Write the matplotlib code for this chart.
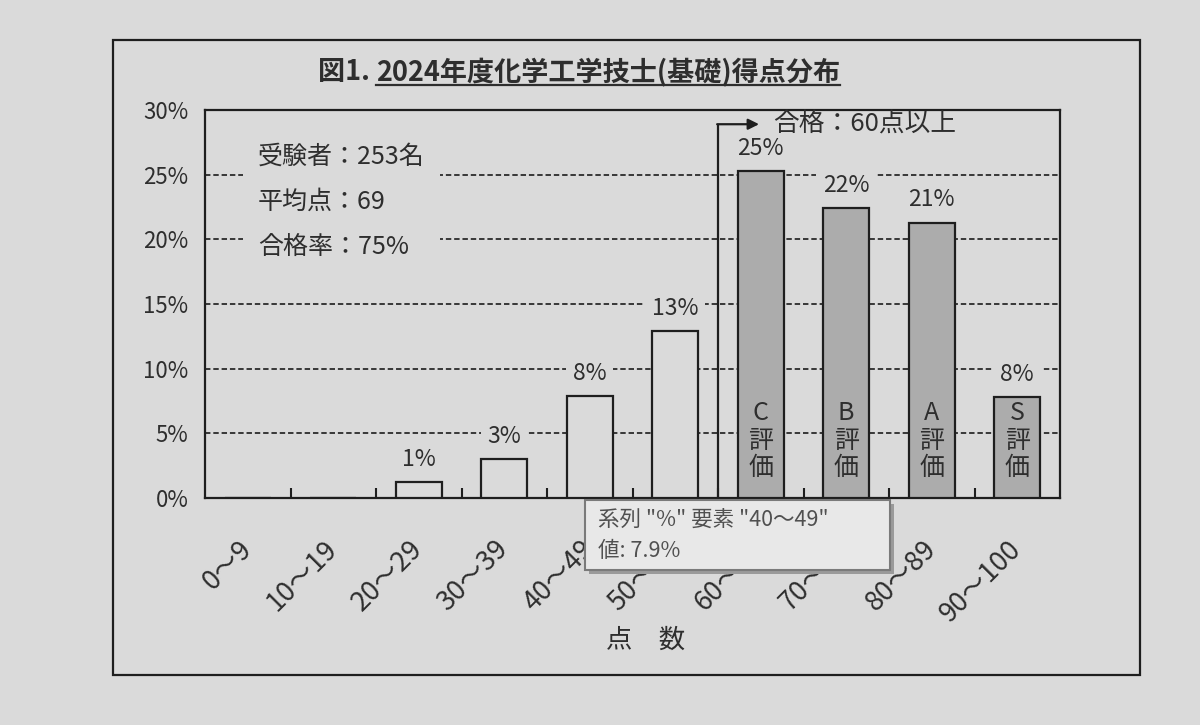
import matplotlib
matplotlib.use('Agg')
import matplotlib.pyplot as plt
from matplotlib.patches import Rectangle
from matplotlib.lines import Line2D
import numpy as np

plt.rcParams['font.family'] = ['Noto Sans CJK JP', 'DejaVu Sans']

# ---- data ----
categories = ['0～9', '10～19', '20～29', '30～39', '40～49',
              '50～59', '60～69', '70～79', '80～89', '90～100']
percent = [0.0, 0.0, 1.2, 3.0, 7.9, 12.9, 25.3, 22.4, 21.3, 7.8]
grades = ['', '', '', '', '', '', 'C', 'B', 'A', 'S']
yticks = [0, 5, 10, 15, 20, 25, 30]
title_prefix = '図1. '
title_main = '2024年度化学工学技士(基礎)得点分布'
stats_lines = ['受験者：253名', '平均点：69', '合格率：75%']
pass_note = '合格：60点以上'
pass_from = '60～69'
xlabel_text = '点　数'
tooltip_lines = ['系列 "%" 要素 "40～49"', '値: 7.9%']

# ---- style ----
BG = '#dadada'
BAR_GRAY = '#acacac'
INK = '#1e1e1e'
TXT = '#2e2e2e'

fig = plt.figure(figsize=(12, 7.25), dpi=100, facecolor=BG)
W, H = 1200, 725
ax = fig.add_axes([205 / W, 1 - 498 / H, (1060 - 205) / W, (498 - 110) / H])
ax.set_facecolor(BG)

x = np.arange(len(categories))
pass_idx = categories.index(pass_from)
colors = [BAR_GRAY if i >= pass_idx else BG for i in x]
ax.bar(x, percent, width=0.54, color=colors, edgecolor=INK, linewidth=1.6, zorder=3)

ax.set_xlim(-0.5, len(categories) - 0.5)
ax.set_ylim(0, 30)
ax.set_yticks(yticks)
ax.set_yticklabels([f'{v}%' for v in yticks])
ax.tick_params(axis='y', length=0, pad=12, labelsize=16, labelcolor=TXT)

ax.set_xticks(x)
ax.set_xticklabels(categories, rotation=45, ha='right', va='center',
                   rotation_mode='anchor')
ax.tick_params(axis='x', which='major', length=0, pad=34, labelsize=19.5,
               labelcolor=TXT)
ax.set_xticks(x[:-1] + 0.5, minor=True)
ax.tick_params(axis='x', which='minor', direction='in', length=7, width=1.5,
               color=INK)

ax.yaxis.grid(True, color='#2a2a2a', linewidth=1.3, linestyle=(0, (3, 1.6)),
              zorder=1)
ax.set_axisbelow(True)
for s in ax.spines.values():
    s.set_color(INK)
    s.set_linewidth(1.6)

# data labels
for i, v in enumerate(percent):
    if v > 0:
        ax.annotate(f'{v:.0f}%', (i, v), xytext=(0, 8), textcoords='offset points',
                    ha='center', va='bottom', fontsize=16.5, color=TXT,
                    bbox=dict(boxstyle='square,pad=0.3', fc=BG, ec='none'),
                    zorder=4)
    if grades[i]:
        ax.text(i, 1.3, '\n'.join([grades[i], '評', '価']), ha='center', va='bottom',
                fontsize=18, linespacing=1.08, color=TXT, zorder=5)

# stats box
ax.text(0.12, 27.4, '\n'.join(stats_lines), ha='left', va='top', fontsize=18,
        linespacing=1.95, color=TXT, zorder=4,
        bbox=dict(boxstyle='square,pad=0.6', fc=BG, ec='none'))

# pass arrow
bx = pass_idx - 0.5
ay = 28.9
ax.plot([bx, bx], [0, ay], color=INK, lw=1.6, zorder=4, solid_capstyle='butt')
ax.annotate('', xy=(pass_idx - 0.02, ay), xytext=(bx - 0.01, ay),
            arrowprops=dict(arrowstyle='-|>', color=INK, lw=1.6,
                            mutation_scale=16, shrinkA=0, shrinkB=0), zorder=4)
ax.text(pass_idx + 0.15, ay, pass_note, ha='left', va='center', fontsize=18.5,
        color=TXT, zorder=4)

# x label
ax.set_xlabel(xlabel_text, fontsize=19, color=TXT)
ax.xaxis.set_label_coords(0.515, -0.366)
ax.xaxis.label.set_va('center')

# title with partial underline
t1 = fig.text(318 / W, 1 - 72 / H, title_prefix, fontsize=19.5, fontweight='bold',
              color=TXT, va='center', ha='left')
fig.canvas.draw()
r = fig.canvas.get_renderer()
bb1 = t1.get_window_extent(renderer=r)
t2 = fig.text(bb1.x1 / W, 1 - 72 / H, title_main, fontsize=19.5, fontweight='bold',
              color=TXT, va='center', ha='left')
fig.canvas.draw()
bb2 = t2.get_window_extent(renderer=r)
uy = (bb2.y0 + 1) / H
fig.add_artist(Line2D([bb2.x0 / W, bb2.x1 / W], [uy, uy], color=TXT, lw=1.6,
                      transform=fig.transFigure))

# outer border
fig.add_artist(Rectangle((113 / W, 1 - 675 / H), (1140 - 113) / W, (675 - 40) / H,
                         transform=fig.transFigure, fill=False, ec=INK, lw=1.6))

# tooltip
tx0, tx1, ty0, ty1 = 585, 890, 500, 570
fig.add_artist(Rectangle(((tx0 + 4) / W, 1 - (ty1 + 4) / H), (tx1 - tx0) / W,
                         (ty1 - ty0) / H, transform=fig.transFigure,
                         fc='#9a9a9a', ec='none', zorder=9))
fig.add_artist(Rectangle((tx0 / W, 1 - ty1 / H), (tx1 - tx0) / W, (ty1 - ty0) / H,
                         transform=fig.transFigure, fc='#e8e8e8', ec='#7a7a7a',
                         lw=1.5, zorder=10))
fig.text((tx0 + 13) / W, 1 - 520 / H, tooltip_lines[0], fontsize=15.5, color='#505050',
         va='center', ha='left', zorder=11)
fig.text((tx0 + 13) / W, 1 - 551 / H, tooltip_lines[1], fontsize=15.5, color='#505050',
         va='center', ha='left', zorder=11)

fig.savefig('out.png', dpi=100, facecolor=BG)
